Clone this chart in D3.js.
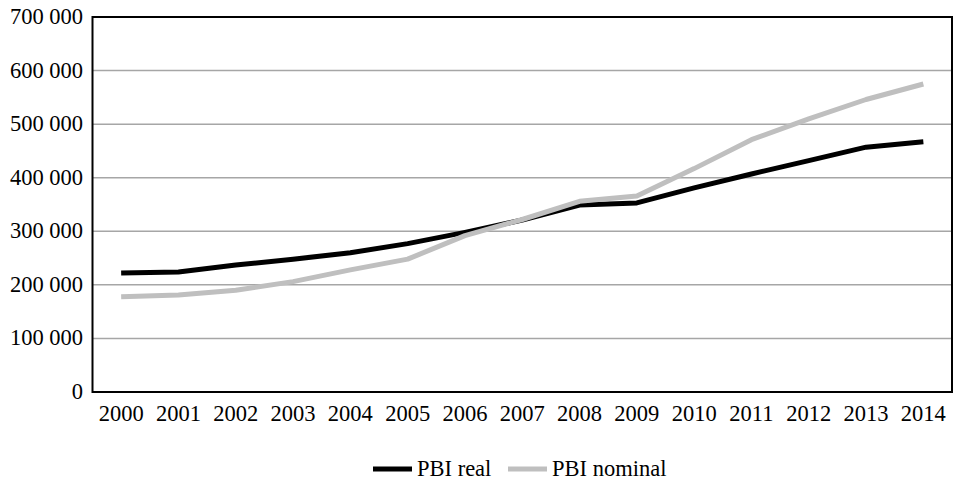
<!DOCTYPE html>
<html>
<head>
<meta charset="utf-8">
<script src="https://cdn.jsdelivr.net/npm/d3@7"></script>
<style>
  html, body { margin: 0; padding: 0; background: #fff; }
  #chart { position: relative; width: 955px; height: 481px; }
  #chart svg { position: absolute; left: 0; top: 0; display: block; }
  .lbl {
    position: absolute;
    font-family: "Liberation Serif", "Times New Roman", serif;
    font-size: 22.5px;
    line-height: 22.5px;
    color: #000;
    white-space: nowrap;
  }
</style>
</head>
<body>
<div id="chart"></div>
<script>
// Años y series del PBI
const years = ["2000","2001","2002","2003","2004","2005","2006","2007","2008","2009","2010","2011","2012","2013","2014"];
const pbiReal    = [222000, 224000, 237000, 248000, 260000, 277000, 298000, 321000, 349000, 353000, 381000, 407000, 432000, 457000, 467000];
const pbiNominal = [178000, 181000, 190000, 206000, 228000, 248000, 292000, 322000, 356000, 366000, 417000, 471000, 510000, 546000, 575000];
const yTicks = [0, 100000, 200000, 300000, 400000, 500000, 600000, 700000];
const seriesNames = ["PBI real", "PBI nominal"];
const seriesColors = ["#000000", "#bfbfbf"];

const W = 955, H = 481;
const m = { left: 92.5, right: 3, top: 17, bottom: 89 };

const chart = d3.select("#chart");
const svg = chart.append("svg").attr("width", W).attr("height", H);

const x = d3.scaleBand().domain(years).range([m.left, W - m.right]);
const y = d3.scaleLinear().domain([0, 700000]).range([H - m.bottom, m.top]);

const fmt = v => d3.format(",")(v).replace(/,/g, " ");

// Líneas de cuadrícula
svg.append("g").selectAll("line").data(yTicks.slice(1, -1)).join("line")
  .attr("x1", m.left).attr("x2", W - m.right)
  .attr("y1", d => y(d)).attr("y2", d => y(d))
  .attr("stroke", "#a6a6a6").attr("stroke-width", 1.5);

// Etiquetas del eje Y (texto HTML sobre el SVG, posicionado con la escala)
chart.selectAll("div.ylbl").data(yTicks).join("div")
  .attr("class", "lbl ylbl")
  .style("left", (m.left - 9.5) + "px")
  .style("top", d => y(d) + "px")
  .style("transform", "translate(-100%, -50%)")
  .text(fmt);

// Etiquetas del eje X
chart.selectAll("div.xlbl").data(years).join("div")
  .attr("class", "lbl xlbl")
  .style("left", d => (x(d) + x.bandwidth() / 2) + "px")
  .style("top", (H - m.bottom + 21.5) + "px")
  .style("transform", "translate(-50%, -50%)")
  .text(d => d);

// Series (la nominal queda encima de la real)
const line = d3.line().x((d, i) => x(years[i]) + x.bandwidth() / 2).y(d => y(d));
[pbiReal, pbiNominal].forEach((s, k) => {
  svg.append("path").datum(s)
    .attr("d", line)
    .attr("fill", "none")
    .attr("stroke", seriesColors[k])
    .attr("stroke-width", 5)
    .attr("stroke-linejoin", "round");
});

// Marco del área de trazado
svg.append("rect")
  .attr("x", m.left).attr("y", m.top)
  .attr("width", W - m.right - m.left).attr("height", H - m.bottom - m.top)
  .attr("fill", "none").attr("stroke", "#000").attr("stroke-width", 2);

// Leyenda
const legendX = [373, 508];
seriesNames.forEach((n, k) => {
  svg.append("line")
    .attr("x1", legendX[k]).attr("x2", legendX[k] + 39)
    .attr("y1", 469).attr("y2", 469)
    .attr("stroke", seriesColors[k]).attr("stroke-width", 5);
  chart.append("div")
    .attr("class", "lbl")
    .style("left", (legendX[k] + 44) + "px")
    .style("top", "469px")
    .style("transform", "translate(0, -50%)")
    .text(n);
});
</script>
</body>
</html>
